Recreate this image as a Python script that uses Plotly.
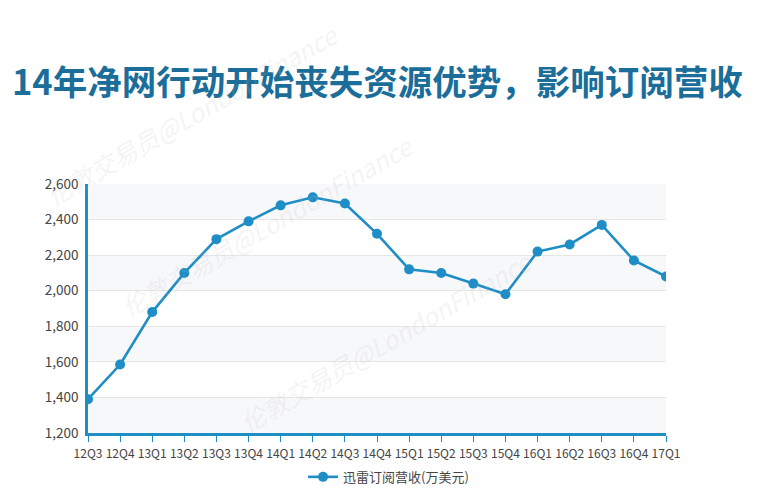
import plotly.graph_objects as go

quarters = ["12Q3", "12Q4", "13Q1", "13Q2", "13Q3", "13Q4", "14Q1", "14Q2", "14Q3", "14Q4",
            "15Q1", "15Q2", "15Q3", "15Q4", "16Q1", "16Q2", "16Q3", "16Q4", "17Q1"]
revenue = [1390, 1585, 1880, 2100, 2290, 2390, 2480, 2525, 2490, 2320,
           2120, 2100, 2040, 1980, 2220, 2260, 2370, 2170, 2080]
y_ticks = [1200, 1400, 1600, 1800, 2000, 2200, 2400, 2600]
series_name = "迅雷订阅营收(万美元)"
title_text = "14年净网行动开始丧失资源优势，影响订阅营收"
watermark = "伦敦交易员@LondonFinance"

blue = "#1f8dc6"

fig = go.Figure()
fig.add_trace(go.Scatter(
    x=quarters, y=revenue, mode="lines+markers", name=series_name,
    line=dict(color=blue, width=2.6),
    marker=dict(color=blue, size=10),
))

shapes = []
for i in range(len(y_ticks) - 1):
    if i % 2 == 0:
        shapes.append(dict(type="rect", xref="paper", yref="y", x0=0, x1=1,
                           y0=y_ticks[i], y1=y_ticks[i + 1],
                           fillcolor="#f7f8fa", line=dict(width=0), layer="below"))

annotations = [
    dict(text="<b>" + title_text + "</b>", xref="paper", yref="paper", x=0.5, y=1.0,
         xanchor="center", yanchor="middle", showarrow=False,
         font=dict(family="Noto Sans CJK SC", size=34.5, color="#1b6e99"),
         yshift=104),
]
for (ax, ay) in [(0.18, 1.28), (0.31, 0.835), (0.515, 0.37)]:
    annotations.append(dict(text="<i>" + watermark + "</i>", xref="paper", yref="paper", x=ax, y=ay,
                            xanchor="center", yanchor="middle",
                            showarrow=False, textangle=-30,
                            font=dict(family="Noto Sans CJK SC", size=25, color="rgba(190,190,190,0.18)")))

fig.update_layout(
    width=765, height=491,
    paper_bgcolor="#ffffff", plot_bgcolor="white",
    margin=dict(l=80, r=107, t=176, b=66, autoexpand=False),
    font=dict(family="Noto Sans CJK SC", size=13, color="#444"),
    showlegend=True,
    legend=dict(orientation="h", x=0.52, xanchor="center", yref="container", y=0.045, yanchor="middle",
                font=dict(size=13, color="#444"), bgcolor="rgba(0,0,0,0)"),
    shapes=shapes,
    annotations=annotations,
    xaxis=dict(type="category", range=[0, len(quarters) - 1], showgrid=False,
               showline=True, linecolor=blue, linewidth=2.5,
               ticks="outside", ticklen=6, tickcolor=blue, tickwidth=1,
               ticklabelstandoff=2, tickangle=0, automargin=False,
               tickfont=dict(size=12, color="#444"), zeroline=False),
    yaxis=dict(range=[1200, 2600], tickvals=y_ticks, tickformat=",",
               showgrid=True, gridcolor="#e6e6e6", gridwidth=1,
               showline=True, linecolor=blue, linewidth=2.5, automargin=False,
               ticks="", ticklabelstandoff=4, tickfont=dict(size=13.5, color="#444"), zeroline=False),
)

fig.write_html("out.html")
